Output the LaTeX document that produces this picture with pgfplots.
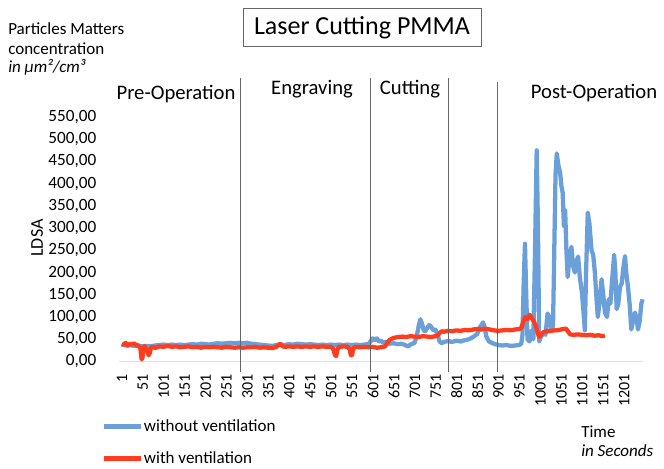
\documentclass[border=0pt]{standalone}
\usepackage{pgfplots}
\pgfplotsset{compat=1.18}
\usepackage{fontspec}
\setmainfont{Carlito}
\definecolor{bluev}{HTML}{6A9FD9}
\definecolor{redv}{HTML}{FF3D1E}
\definecolor{vline}{HTML}{666666}
\begin{document}
\begin{tikzpicture}[x=0.75pt,y=0.75pt]
\begin{axis}[
  at={(89.25pt,79.875pt)}, anchor=south west,
  scale only axis, width=393pt, height=183.4pt,
  xmin=-6, xmax=1246, ymin=0, ymax=550,
  axis line style={draw=none},
  major tick length=0pt,
  xtick={1,51,...,1201},
  ytick={0,50,...,550},
  xticklabel shift=6pt,
  yticklabel shift=13.5pt,
  /pgf/number format/assume math mode=true,
  xticklabel style={rotate=90, anchor=east, font=\fontsize{12}{12}\selectfont, /pgf/number format/1000 sep={}},
  yticklabel style={font=\fontsize{12.9}{13}\selectfont, /pgf/number format/.cd, fixed, fixed zerofill, precision=2, use comma, 1000 sep={}},
  legend style={at={(axis description cs:-0.033,-0.226)}, anchor=north west, draw=none, fill=none,
    font=\fontsize{12.75}{13}\selectfont, row sep=9.5pt, inner sep=0pt, cells={anchor=west},
    nodes={inner xsep=0.8pt}},
  legend image code/.code={\draw[#1, line width=3.2pt] (0pt,0pt) -- (27.5pt,0pt);},
  clip=false,
]
\draw[gray!25, line width=1pt] (axis cs:-6,0) -- (axis cs:1246,0);
\addplot[bluev, line width=3.2pt, line join=round] coordinates {
(1,38) (10,36) (20,37) (30,35) (40,36) (50,34) (60,35) (70,34) (80,36) (90,37)
(100,38) (110,37) (120,38) (130,37) (140,38) (150,37) (160,38) (170,39) (180,38) (190,40)
(200,39) (210,38) (220,40) (230,41) (240,40) (250,41) (260,42) (270,41) (280,42) (290,41)
(300,42) (310,40) (320,39) (330,38) (340,37) (350,36) (360,35) (370,37) (380,38) (390,37)
(400,39) (410,38) (420,40) (430,39) (440,38) (450,39) (460,38) (470,37) (480,38) (490,37)
(500,38) (510,37) (520,38) (530,37) (540,38) (550,37) (560,38) (570,37) (580,38) (590,39)
(595,45) (600,52) (605,48) (610,52) (615,45) (620,47) (625,42) (630,44) (640,40) (650,41)
(660,39) (670,40) (680,36) (685,34) (690,38) (700,42) (705,55) (710,80) (714,95) (718,85)
(722,70) (726,68) (730,75) (735,82) (740,78) (745,70) (750,72) (755,60) (760,45) (765,41)
(770,44) (780,46) (790,44) (800,47) (810,45) (820,48) (830,50) (840,55) (850,62) (855,75)
(860,82) (864,88) (868,75) (872,55) (878,45) (885,42) (890,40) (900,37) (910,36) (920,37)
(930,35) (940,36) (950,37) (955,40) (958,60) (961,180) (964,265) (967,150) (970,50) (975,45)
(980,70) (984,50) (988,250) (992,475) (995,300) (998,45) (1002,55) (1008,65) (1013,60) (1018,108)
(1022,100) (1027,72) (1031,80) (1034,250) (1037,420) (1040,468) (1044,440) (1048,425) (1051,395) (1054,380)
(1057,305) (1060,340) (1063,250) (1066,190) (1070,230) (1075,258) (1079,215) (1083,200) (1087,225) (1091,236)
(1095,190) (1100,155) (1104,110) (1107,70) (1110,200) (1114,335) (1118,310) (1123,250) (1127,240) (1131,200)
(1135,140) (1138,100) (1142,130) (1147,185) (1151,150) (1155,110) (1160,100) (1164,140) (1168,130) (1172,180)
(1177,240) (1180,200) (1183,118) (1187,130) (1191,168) (1195,175) (1199,210) (1203,237) (1206,200) (1210,168)
(1214,130) (1218,72) (1222,90) (1227,110) (1231,95) (1234,72) (1238,90) (1242,130) (1245,140)
};
\addlegendentry{without ventilation}
\addplot[redv, line width=3.2pt, line join=round] coordinates {
(1,40) (5,38) (10,42) (15,36) (20,40) (25,38) (30,41) (35,37) (40,36) (45,30)
(48,5) (50,8) (52,25) (55,35) (58,30) (62,22) (65,14) (68,20) (70,30) (75,34)
(80,30) (90,34) (100,33) (110,35) (120,33) (130,34) (140,32) (150,33) (160,34) (170,32)
(180,33) (190,31) (200,33) (210,32) (220,33) (230,32) (240,31) (250,33) (260,32) (270,31)
(280,32) (290,31) (300,32) (310,32) (320,33) (330,31) (340,32) (350,31) (360,30) (370,33)
(379,40) (385,34) (390,33) (400,34) (410,33) (420,34) (430,33) (440,34) (450,33) (460,34)
(470,33) (480,34) (490,33) (500,33) (505,30) (510,15) (513,12) (516,28) (520,33) (530,34)
(540,33) (545,28) (548,14) (551,15) (554,30) (560,33) (570,32) (580,33) (590,32) (600,33)
(610,31) (620,32) (630,34) (635,42) (640,48) (645,51) (650,53) (660,55) (670,56) (680,55)
(690,57) (700,56) (710,55) (720,57) (730,56) (740,55) (750,57) (755,58) (760,64) (765,68)
(770,67) (780,69) (790,68) (800,70) (810,69) (820,71) (830,70) (840,72) (850,73) (860,72)
(870,74) (880,72) (890,70) (900,69) (910,70) (920,71) (930,70) (940,72) (950,73) (955,75)
(960,90) (965,100) (970,95) (975,105) (980,98) (985,90) (990,80) (995,62) (998,55) (1002,60)
(1008,66) (1015,68) (1025,69) (1035,70) (1045,71) (1055,73) (1062,74) (1068,66) (1072,61) (1080,60)
(1090,61) (1100,60) (1110,59) (1120,60) (1130,58) (1140,59) (1150,57) (1155,58)
};
\addlegendentry{with ventilation}
\end{axis}
\draw[vline, line width=0.75pt] (240.7,390) -- (240.7,96);
\draw[vline, line width=0.75pt] (370.5,390) -- (370.5,96);
\draw[vline, line width=0.75pt] (448,390) -- (448,96);
\draw[vline, line width=0.75pt] (497,386) -- (497,96);
\node[draw=gray!80!black, line width=0.75pt, minimum width=178.5pt, minimum height=29pt, inner sep=0pt,
  font=\fontsize{19.5}{20}\selectfont] at (362,440.5) {Laser Cutting PMMA};
\node[anchor=base, font=\fontsize{15.5}{16}\selectfont] at (176,368) {Pre-Operation};
\node[anchor=base, font=\fontsize{15.5}{16}\selectfont] at (312,373) {Engraving};
\node[anchor=base, font=\fontsize{15.5}{16}\selectfont] at (410,373) {Cutting};
\node[anchor=base, font=\fontsize{15.5}{16}\selectfont] at (594,369) {Post-Operation};
\node[anchor=base west, inner sep=0pt, font=\fontsize{12.75}{13}\selectfont] at (8,433) {Particles Matters};
\node[anchor=base west, inner sep=0pt, font=\fontsize{12.75}{13}\selectfont] at (8,413) {concentration};
\node[anchor=base west, inner sep=0pt, font=\fontsize{12.75}{13}\selectfont\itshape] at (8,395) {in µm²/cm³};
\node[rotate=90, font=\fontsize{13.5}{14}\selectfont] at (37,230) {LDSA};
\node[anchor=base west, inner sep=0pt, font=\fontsize{12.75}{13}\selectfont] at (581,31) {Time};
\node[anchor=base west, inner sep=0pt, font=\fontsize{12.75}{13}\selectfont\itshape] at (581,12) {in Seconds};
\pgfresetboundingbox
\path (0,0) rectangle (664,468);
\end{tikzpicture}
\end{document}
